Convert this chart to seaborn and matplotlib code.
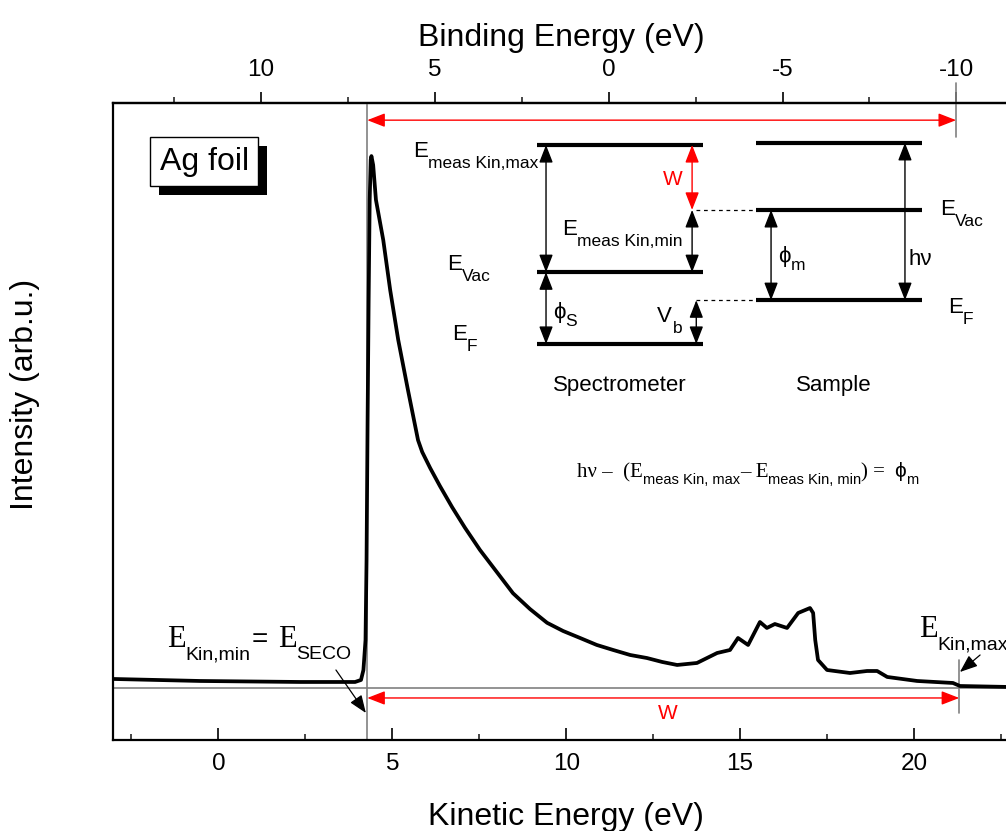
import matplotlib
matplotlib.use("Agg")
import matplotlib.pyplot as plt
from matplotlib import patheffects
from matplotlib.ticker import FixedLocator
from matplotlib.transforms import offset_copy
import pandas as pd
import seaborn as sns

# ---------------- data ----------------
kinetic_energy = [-3.03, -0.53, 2.35, 3.93, 4.10, 4.17, 4.23, 4.26, 4.29, 4.32, 4.35, 4.38, 4.40, 4.45,
                  4.53, 4.74, 4.94, 5.17, 5.45, 5.74, 5.86, 6.09, 6.37, 6.72, 7.09, 7.52, 8.47, 8.96, 9.45,
                  9.91, 10.40, 10.88, 11.35, 11.84, 12.32, 12.76, 13.19, 13.76, 14.34, 14.71, 14.94,
                  15.23, 15.57, 15.77, 16.00, 16.35, 16.67, 17.01, 17.10, 17.16, 17.24, 17.50, 18.16,
                  18.65, 18.94, 19.23, 20.09, 21.12, 21.32, 22.76]
intensity = [0.76, 0.38, 0.19, 0.19, 0.57, 2.46, 8.14, 23.3, 49.8, 72.5, 91.5, 99.1, 99.8, 98.1,
             91.5, 83.9, 74.4, 65.0, 55.5, 46.0, 43.75, 40.7, 37.3, 33.3, 29.4, 25.2, 17.0, 14.0, 11.4,
             9.85, 8.52, 7.20, 6.25, 5.30, 4.73, 3.98, 3.41, 3.79, 5.68, 6.25, 8.52,
             7.20, 11.55, 10.42, 11.17, 10.42, 13.26, 14.20, 13.26, 8.14, 4.36, 2.46, 1.89,
             2.27, 2.27, 1.14, 0.38, 0.0, -0.57, -0.76]

BE_OFFSET = 11.22                     # binding energy = BE_OFFSET - kinetic energy
bottom_major = [0, 5, 10, 15, 20]
bottom_minor = [-2.5, 2.5, 7.5, 12.5, 17.5, 22.5]
top_major = [10, 5, 0, -5, -10]
top_minor = [12.5, 7.5, 2.5, -2.5, -7.5]

seco_ke = 4.28
edge_ke_top = 21.21
edge_ke_bottom = 21.30
baseline_level = -0.95

# energy-level diagram (in plot units)
spec_x = (9.16, 13.94)
spec_levels = [101.9, 77.8, 64.2]        # E_meas kin,max / E_vac / E_F
sample_x = (15.46, 20.23)
sample_levels = [102.3, 89.6, 72.5]      # top / E_vac / E_F

# ---------------- figure ----------------
sns.set_theme(style="white")
plt.rcParams['font.family'] = ['Liberation Sans', 'DejaVu Sans']
plt.rcParams['axes.unicode_minus'] = False

W, H = 1006, 831
fig = plt.figure(figsize=(W / 100, H / 100), dpi=100)
ax = fig.add_axes([113 / W, 1 - 740 / H, (1010 - 113) / W, (740 - 103) / H])

df = pd.DataFrame({'Kinetic Energy (eV)': kinetic_energy, 'Intensity': intensity})
sns.lineplot(data=df, x='Kinetic Energy (eV)', y='Intensity', ax=ax, color='black',
             lw=2.7, sort=False, solid_joinstyle='round', zorder=3)

ax.set_xlim(-3.03, 22.76)
ax.set_ylim(-10.8, 109.85)

for s in ['left', 'bottom', 'top']:
    ax.spines[s].set_color('black')
    ax.spines[s].set_linewidth(1.6)
ax.spines['right'].set_visible(False)

ax.set_xticks(bottom_major)
ax.xaxis.set_minor_locator(FixedLocator(bottom_minor))
ax.tick_params(axis='x', which='major', direction='in', length=8.5, width=1.2,
               labelsize=17.5, pad=9, bottom=True, top=False, colors='black')
ax.tick_params(axis='x', which='minor', direction='in', length=4, width=1.2,
               bottom=True, top=False)
ax.tick_params(axis='y', left=False, labelleft=False, right=False)
ax.set_yticks([])

ax.set_xlabel('Kinetic Energy (eV)', fontsize=23, color='black')
ax.xaxis.set_label_coords(0.505, -0.097)
ax.set_ylabel('Intensity (arb.u.)', fontsize=23, color='black')
ax.yaxis.set_label_coords(-0.081, 0.543)

secax = ax.secondary_xaxis('top', functions=(lambda k: BE_OFFSET - k, lambda b: BE_OFFSET - b))
secax.set_xticks(top_major)
secax.xaxis.set_minor_locator(FixedLocator(top_minor))
secax.tick_params(which='major', direction='out', length=8, width=1.2, labelsize=17.5, pad=8,
                  colors='black')
secax.tick_params(which='minor', direction='out', length=4, width=1.2)
secax.spines['top'].set_linewidth(1.6)
secax.spines['top'].set_color('black')
secax.set_xlabel('Binding Energy (eV)', fontsize=23, color='black', labelpad=9)

# ---------------- guide lines ----------------
gray = '#808080'
ax.axvline(seco_ke, color=gray, lw=1.2, zorder=2)
ax.axhline(baseline_level, color=gray, lw=1.2, zorder=2)
ax.plot([edge_ke_top, edge_ke_top], [113.6, 103.4], color=gray, lw=1.2, clip_on=False, zorder=2)
ax.plot([edge_ke_bottom, edge_ke_bottom], [4.36, -5.68], color=gray, lw=1.2, zorder=2)


def darrow(x0, y0, x1, y1, color='black', style='<|-|>'):
    ax.annotate('', xy=(x1, y1), xytext=(x0, y0),
                arrowprops=dict(arrowstyle=style + ',head_length=0.9,head_width=0.35',
                                color=color, lw=1.0, mutation_scale=12,
                                shrinkA=0, shrinkB=0), zorder=4)


red = '#ff0000'
darrow(seco_ke, 106.6, edge_ke_top, 106.6, color=red)
darrow(seco_ke, -2.84, edge_ke_bottom, -2.84, color=red)

# ---------------- energy-level diagram ----------------
for lv in spec_levels:
    ax.plot(spec_x, [lv, lv], color='black', lw=3, solid_capstyle='butt', zorder=4)
for lv in sample_levels:
    ax.plot(sample_x, [lv, lv], color='black', lw=3, solid_capstyle='butt', zorder=4)

darrow(9.42, spec_levels[0], 9.42, spec_levels[1])
darrow(9.42, spec_levels[1], 9.42, spec_levels[2])
darrow(13.62, spec_levels[0], 13.62, sample_levels[1], color=red)
darrow(13.62, sample_levels[1], 13.62, spec_levels[1])
darrow(13.74, sample_levels[2], 13.74, spec_levels[2])
darrow(19.74, sample_levels[0], 19.74, sample_levels[2])
darrow(15.89, sample_levels[1], 15.89, sample_levels[2])
for lv in (sample_levels[1], sample_levels[2]):
    ax.plot([13.74, sample_x[0]], [lv, lv], color='black', lw=0.9, ls=(0, (3, 3)), zorder=4)

renderer = fig.canvas.get_renderer()
SANS = ['Liberation Sans', 'DejaVu Sans']
SERIF = ['Liberation Serif', 'DejaVu Serif']
PHI = '\u03d5'


def rich(x, y, parts, color='black'):
    """parts: (text, family, size_pt, dy_px, gap_px)"""
    dx = 0.0
    for txt, fam, size, dy, gap in parts:
        tr = offset_copy(ax.transData, fig=fig, x=dx, y=dy, units='dots')
        t = ax.text(x, y, txt, transform=tr, fontsize=size, family=fam, color=color,
                    ha='left', va='baseline', zorder=5)
        dx += t.get_window_extent(renderer).width + gap


BIG, SUB, DY = 16, 12.5, -11
rich(5.60, 99.6, [('E', SANS, BIG, 0, 0), ('meas Kin,max', SANS, SUB, DY, 0)])
rich(9.88, 84.8, [('E', SANS, BIG, 0, 0), ('meas Kin,min', SANS, SUB, DY, 0)])
rich(6.58, 78.2, [('E', SANS, BIG, 0, 0), ('Vac', SANS, SUB, DY, 0)])
rich(6.72, 65.0, [('E', SANS, BIG, 0, 0), ('F', SANS, SUB, DY, 0)])
rich(9.62, 69.1, [(PHI, SANS, BIG, 0, 0), ('S', SANS, SUB, -8, 0)])
rich(12.61, 68.4, [('V', SANS, BIG, 0, 1), ('b', SANS, SUB, DY, 0)])
rich(20.75, 88.6, [('E', SANS, BIG, 0, 0), ('Vac', SANS, SUB, DY, 0)])
rich(20.98, 70.1, [('E', SANS, BIG, 0, 0), ('F', SANS, SUB, DY, 0)])
rich(16.09, 79.7, [(PHI, SANS, BIG, 0, 0), ('m', SANS, SUB, -8, 0)])
rich(19.83, 79.2, [('h\u03bd', SANS, BIG, 0, 0)])

ax.text(11.55, 56.25, 'Spectrometer', fontsize=16, ha='center', va='center', color='black')
ax.text(17.70, 56.25, 'Sample', fontsize=16, ha='center', va='center', color='black')
ax.text(13.07, 95.3, 'W', fontsize=15, ha='center', va='center', color=red)
ax.text(12.93, -5.7, 'W', fontsize=15, ha='center', va='center', color=red)

# equation
rich(10.31, 39.0, [('h\u03bd \u2013  (E', SERIF, 15, 0, 0),
                   ('meas Kin, max', SANS, 10.5, -7, 0),
                   ('\u2013 E', SERIF, 15, 0, 0),
                   ('meas Kin, min', SANS, 10.5, -7, 0),
                   (') = ', SERIF, 15, 0, 4),
                   (PHI, SANS, 15, 0, 0),
                   ('m', SANS, 10.5, -7, 0)])

# SECO / Fermi edge labels
rich(-1.48, 6.8, [('E', SERIF, 22, 0, 0), ('Kin,min', SANS, 14, -12, 1),
                  ('=', SANS, 20, 0, 10), ('E', SERIF, 22, 0, 0), ('SECO', SANS, 14, -12, 0)])
rich(20.15, 8.7, [('E', SERIF, 22, 0, 0), ('Kin,max', SANS, 14, -12, 0)])
ax.annotate('', xy=(4.24, -5.68), xytext=(3.38, 2.46),
            arrowprops=dict(arrowstyle='-|>,head_length=0.9,head_width=0.35', color='black',
                            lw=0.9, mutation_scale=12, shrinkA=0, shrinkB=0), zorder=4)
ax.annotate('', xy=(21.32, 2.08), xytext=(21.90, 5.3),
            arrowprops=dict(arrowstyle='-|>,head_length=0.9,head_width=0.35', color='black',
                            lw=0.9, mutation_scale=12, shrinkA=0, shrinkB=0), zorder=4)

# sample label box with shadow
t = ax.text(-0.41, 98.7, 'Ag foil', fontsize=23, ha='center', va='center', color='black',
            bbox=dict(boxstyle='square,pad=0.3', fc='white', ec='black', lw=1.0), zorder=6)
t.get_bbox_patch().set_path_effects([
    patheffects.SimplePatchShadow(offset=(6.5, -6.5), shadow_rgbFace='black', alpha=1.0),
    patheffects.Normal()])

fig.savefig('out.png', dpi=100)
